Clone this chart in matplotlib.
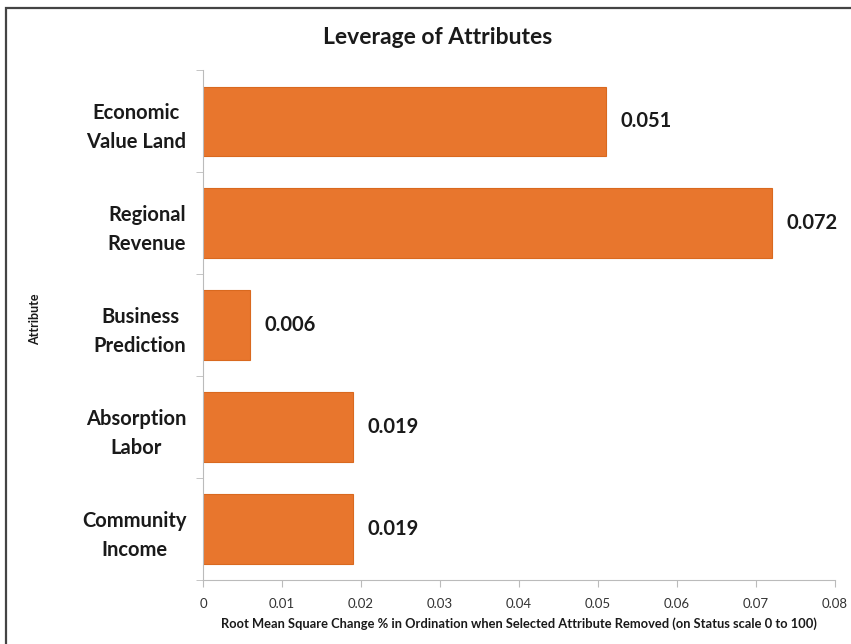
import matplotlib.pyplot as plt
from matplotlib.patches import Rectangle

# data (top to bottom as shown)
attributes = ["Economic\nValue Land", "Regional\nRevenue", "Business\nPrediction",
              "Absorption\nLabor", "Community\nIncome"]
leverage = [0.051, 0.072, 0.006, 0.019, 0.019]
xticks = [0, 0.01, 0.02, 0.03, 0.04, 0.05, 0.06, 0.07, 0.08]
xtick_labels = ["0", "0.01", "0.02", "0.03", "0.04", "0.05", "0.06", "0.07", "0.08"]

plt.rcParams['font.family'] = ['Lato', 'DejaVu Sans']

fig = plt.figure(figsize=(8.51, 6.44), dpi=100)
ax = fig.add_axes([0.2385, 0.0994, 0.7427, 0.7916])

# outer frame of the figure
fig.patches.append(Rectangle((0.007, -0.01), 1.2, 0.997, transform=fig.transFigure,
                             fill=False, edgecolor='#444444', linewidth=1.6))

ypos = list(range(len(attributes)))[::-1]
ax.barh(ypos, leverage, height=0.68, color='#e8762d', edgecolor='#d9691f', linewidth=0.8)

for y, v in zip(ypos, leverage):
    ax.text(v + 0.0018, y, f"{v:.3f}", va='center', ha='left',
            fontsize=14.5, fontweight='bold', color='#1a1a1a')

ax.set_xlim(0, 0.08)
ax.set_ylim(-0.5, 4.5)
ax.set_xticks(xticks)
ax.set_xticklabels(xtick_labels, fontsize=9.5, color='#333333')
ax.tick_params(axis='x', length=5, color='#bbbbbb', pad=8)

ax.set_yticks(ypos)
ax.set_yticklabels(attributes, fontsize=14.5, fontweight='bold', color='#1a1a1a',
                   multialignment='center', linespacing=1.55)
ax.tick_params(axis='y', length=0, pad=12)
ax.set_yticks([i - 0.5 for i in range(len(attributes) + 1)], minor=True)
ax.tick_params(axis='y', which='minor', length=5, color='#bbbbbb')

for side in ['top', 'right']:
    ax.spines[side].set_visible(False)
for side in ['left', 'bottom']:
    ax.spines[side].set_color('#bbbbbb')

ax.set_xlabel("Root Mean Square Change % in Ordination when Selected Attribute Removed (on Status scale 0 to 100)",
              fontsize=9.3, fontweight='bold', color='#1a1a1a', labelpad=5)
fig.text(0.041, 0.505, "Attribute", rotation=90, fontsize=9, fontweight='bold',
         ha='center', va='center', color='#1a1a1a')
fig.text(0.514, 0.941, "Leverage of Attributes", fontsize=16.5, fontweight='bold',
         ha='center', va='center', color='#1a1a1a')

fig.savefig("out.png", dpi=100)
